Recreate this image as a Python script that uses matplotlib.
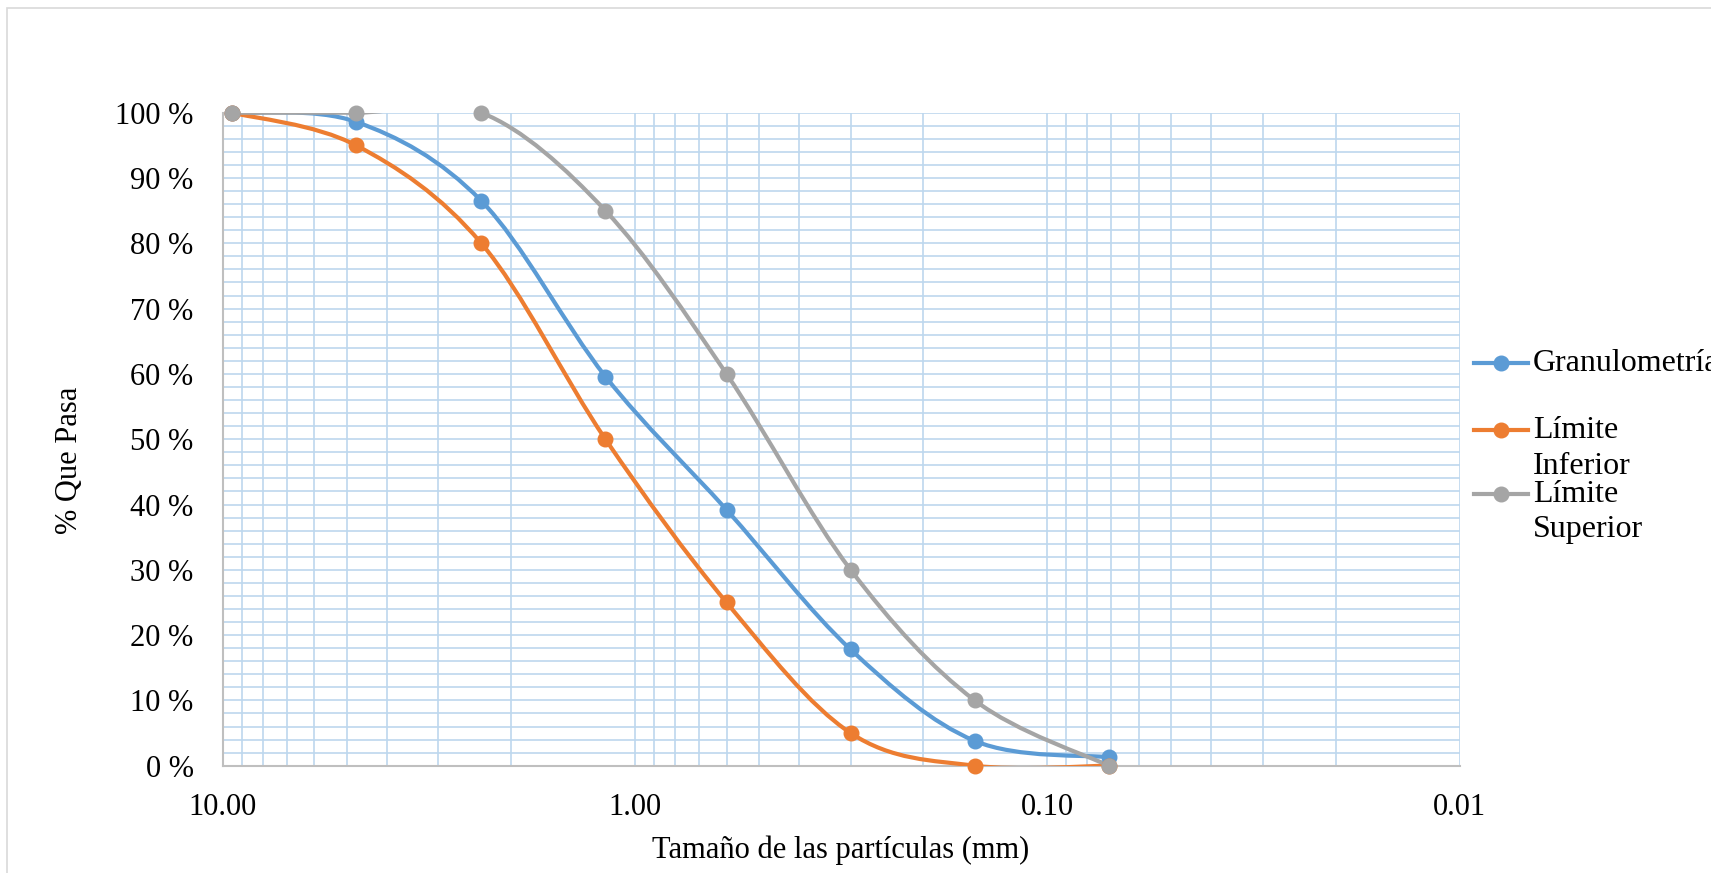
import numpy as np
import matplotlib
matplotlib.use("Agg")
import matplotlib.pyplot as plt
from matplotlib.path import Path
from matplotlib.patches import PathPatch, Rectangle
from matplotlib.lines import Line2D
from matplotlib.ticker import LogLocator, FixedLocator, MultipleLocator

plt.rcParams['font.family'] = ['Liberation Serif', 'DejaVu Serif']

# sieve sizes (mm) and % passing
sizes = [9.5, 4.75, 2.36, 1.18, 0.6, 0.3, 0.15, 0.071]
granulometria = [100, 98.6, 86.5, 59.6, 39.2, 17.8, 3.8, 1.3]
lim_inferior = [100, 95, 80, 50, 25, 5, 0, 0]
lim_superior = [100, 100, 100, 85, 60, 30, 10, 0]

labels = ["Granulometría", "Límite\nInferior", "Límite\nSuperior"]
colors = ["#5B9BD5", "#ED7D31", "#A5A5A5"]
series = [granulometria, lim_inferior, lim_superior]

x_ticks = [10, 1, 0.1, 0.01]
x_ticklabels = ["10.00", "1.00", "0.10", "0.01"]
y_ticks = list(range(0, 101, 10))


def smooth_path(xs, ys):
    # excel-like smoothed line: catmull-rom bezier in (log x, y)
    u = np.log10(xs)
    y = np.asarray(ys, float)
    n = len(u)
    verts = [(xs[0], y[0])]
    codes = [Path.MOVETO]
    for i in range(n - 1):
        i0 = max(i - 1, 0)
        i3 = min(i + 2, n - 1)
        c1u = u[i] + (u[i + 1] - u[i0]) / 6
        c1y = y[i] + (y[i + 1] - y[i0]) / 6
        c2u = u[i + 1] - (u[i3] - u[i]) / 6
        c2y = y[i + 1] - (y[i3] - y[i]) / 6
        verts += [(10 ** c1u, c1y), (10 ** c2u, c2y), (xs[i + 1], y[i + 1])]
        codes += [Path.CURVE4] * 3
    return Path(verts, codes)


W, H = 1711, 873
fig = plt.figure(figsize=(W / 100, H / 100), dpi=100)
ax = fig.add_axes([0.1302, 0.1229, 0.8531 - 0.1302, 0.8709 - 0.1229])

ax.set_xscale("log")
ax.set_xlim(10, 0.01)
ax.set_ylim(0, 100)

grid_c = "#BDD7EE"
ax.xaxis.set_major_locator(FixedLocator(x_ticks))
ax.xaxis.set_minor_locator(LogLocator(base=10, subs=np.arange(2, 10)))
ax.set_xticks(x_ticks)
ax.set_xticklabels(x_ticklabels)
ax.set_yticks(y_ticks)
ax.set_yticklabels(["%d %%" % v for v in y_ticks])
ax.yaxis.set_minor_locator(MultipleLocator(2))
ax.grid(True, which="both", color=grid_c, linewidth=1.2)
ax.set_axisbelow(True)
ax.tick_params(which="both", length=0)
ax.tick_params(axis="y", labelsize=22, pad=21)
ax.tick_params(axis="x", labelsize=22, pad=19.5)
ax.xaxis.set_minor_formatter(plt.NullFormatter())

for s in ["top", "right"]:
    ax.spines[s].set_visible(False)
for s in ["left", "bottom"]:
    ax.spines[s].set_color("#BFBFBF")
    ax.spines[s].set_linewidth(1.5)
    ax.spines[s].set_zorder(2.5)

for vals, c in zip(series, colors):
    patch = PathPatch(smooth_path(sizes, vals), facecolor="none", edgecolor=c,
                      linewidth=3, zorder=3, capstyle="round")
    ax.add_patch(patch)
    ax.plot(sizes, vals, linestyle="none", marker="o", markersize=10.5,
            color=c, zorder=4, clip_on=False)

fig.text(69 / W, 1 - 460 / H, "% Que Pasa", rotation=90, fontsize=22,
         ha="center", va="center")
fig.text(841 / W, 1 - 850 / H, "Tamaño de las partículas (mm)",
         fontsize=22, ha="center", va="center")

# legend at the right
leg_y = [363, 430, 494]
for lab, c, yy in zip(labels, colors, leg_y):
    fy = 1 - yy / H
    fig.add_artist(Line2D([1474 / W, 1528 / W], [fy, fy], color=c,
                          linewidth=3))
    fig.add_artist(Line2D([1501 / W], [fy], color=c, marker="o",
                          markersize=10.5, linestyle="none"))
    for k, part in enumerate(lab.split("\n")):
        fig.text(1533 / W, 1 - (yy + k * 36) / H, part, fontsize=23,
                 ha="left", va="center")

# chart area border
fig.add_artist(Rectangle((7 / W, -0.1), 1.2, 1 - 8 / H + 0.1,
                         transform=fig.transFigure, facecolor="none",
                         edgecolor="#D9D9D9", linewidth=1.2))

fig.savefig("out.png", dpi=100)
